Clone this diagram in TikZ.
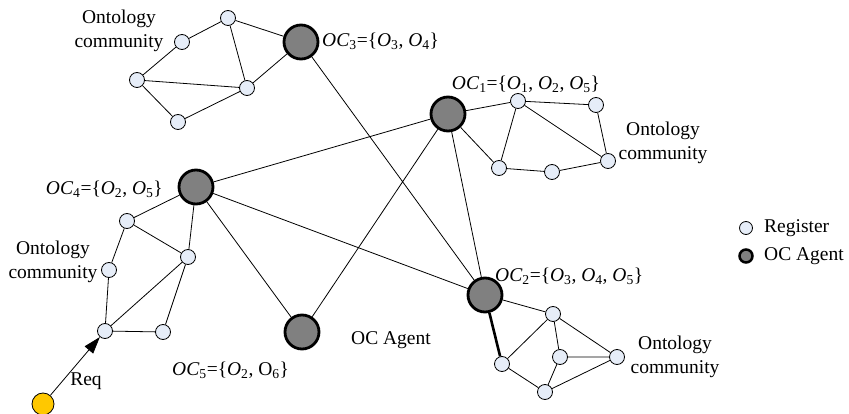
\documentclass[tikz,border=0pt]{standalone}
\usepackage{fontspec}
\setmainfont{Liberation Serif}
\usetikzlibrary{arrows.meta}
\definecolor{regfill}{RGB}{230,237,248}
\definecolor{agentfill}{RGB}{128,128,128}
\definecolor{reqfill}{RGB}{255,200,0}
\newcommand\myO[1]{\textit{O}\textsubscript{#1}}
\newcommand\myOC[1]{\textit{OC}\textsubscript{#1}}
\tikzset{
  reg/.style={circle, draw, fill=regfill, minimum size=15pt, inner sep=0pt, line width=0.8pt},
  agent/.style={circle, draw, fill=agentfill, minimum size=34pt, inner sep=0pt, line width=2.8pt},
  edge/.style={line width=0.8pt},
  thickedge/.style={line width=2.6pt},
  lbl/.style={font=\fontsize{19.5}{24}\selectfont, inner sep=0pt, align=center},
}
\begin{document}
\begin{tikzpicture}[x=1pt,y=-1pt]
\useasboundingbox (0,0) rectangle (849,414);
\clip (0,0) rectangle (849,414);
% agents
\node[agent] (OC3) at (301,42) {};
\node[agent] (OC1) at (448,114) {};
\node[agent] (OC4) at (196,187) {};
\node[agent] (OC5) at (302,332) {};
\node[agent] (OC2) at (485,295) {};
% community around OC3
\node[reg] (a1) at (228,18) {};
\node[reg] (a2) at (182,42) {};
\node[reg] (a3) at (137,80) {};
\node[reg] (a4) at (247,88) {};
\node[reg] (a5) at (178,122) {};
% community around OC1
\node[reg] (b1) at (518,101) {};
\node[reg] (b2) at (596,105) {};
\node[reg] (b3) at (608,161) {};
\node[reg] (b4) at (499,168) {};
\node[reg] (b5) at (552,172) {};
% community around OC4
\node[reg] (c1) at (127,221) {};
\node[reg] (c2) at (188,257) {};
\node[reg] (c3) at (109,270) {};
\node[reg] (c4) at (105,331) {};
\node[reg] (c5) at (163,332) {};
% community around OC2
\node[reg] (d1) at (553,314) {};
\node[reg] (d2) at (502,364) {};
\node[reg] (d3) at (560,357) {};
\node[reg] (d4) at (617,357) {};
\node[reg] (d5) at (545,392) {};
% request
\node[circle, draw, fill=reqfill, minimum size=22pt, inner sep=0pt, line width=0.8pt] (req) at (43,404) {};
% edges
\begin{scope}[on background layer/.style={}]
\draw[edge] (a1) -- (a2) (a2) -- (a3) (a1) -- (a4) (a3) -- (a4) (a3) -- (a5) (a5) -- (a4)
  (a1) -- (OC3) (a4) -- (OC3);
\draw[edge] (OC1) -- (b1) (OC1) -- (b4) (b1) -- (b2) (b1) -- (b3) (b1) -- (b4) (b2) -- (b3)
  (b4) -- (b5) (b5) -- (b3);
\draw[edge] (OC4) -- (c1) (OC4) -- (c2) (c1) -- (c2) (c1) -- (c3) (c3) -- (c4) (c4) -- (c2)
  (c4) -- (c5) (c5) -- (c2);
\draw[edge] (OC2) -- (d1) (d1) -- (d2) (d1) -- (d3) (d1) -- (d4) (d3) -- (d4) (d2) -- (d5)
  (d3) -- (d5) (d5) -- (d4);
\draw[thickedge] (OC2) -- (d2);
\draw[edge] (OC3) -- (OC2) (OC1) -- (OC4) (OC1) -- (OC5) (OC1) -- (OC2)
  (OC4) -- (OC5) (OC4) -- (OC2);
\draw[edge, -{Triangle[length=17pt,width=11pt]}] (req) -- (c4);
\end{scope}
% labels
\node[lbl, anchor=west] (lOC3) at (322,41) {\myOC{3}=\{\myO{3}, \myO{4}\}};
\node[lbl] (lOC1) at (526,84) {\myOC{1}=\{\myO{1}, \myO{2}, \myO{5}\}};
\node[lbl, anchor=east] (lOC4) at (163,189) {\myOC{4}=\{\myO{2}, \myO{5}\}};
\node[lbl, anchor=west] (lOC2) at (495,276) {\myOC{2}=\{\myO{3}, \myO{4}, \myO{5}\}};
\node[lbl, anchor=west] (lOC5) at (172,370) {\myOC{5}=\{\myO{2}, O\textsubscript{6}\}};
\node[lbl] (lag) at (391,340) {OC Agent};
\node[lbl] (lreq) at (86,381) {Req};
\node[lbl] (ont1) at (119,31) {Ontology\\community};
\node[lbl] (ont2) at (663,143) {Ontology\\community};
\node[lbl] (ont3) at (53,262) {Ontology\\community};
\node[lbl] (ont4) at (675,357) {Ontology\\community};
% legend
\node[circle, draw, fill=regfill, minimum size=13pt, inner sep=0pt, line width=0.8pt] (legreg) at (746,228) {};
\node[lbl, anchor=west] (legregt) at (764,228) {Register};
\node[circle, draw, fill=agentfill, minimum size=13pt, inner sep=0pt, line width=2.5pt] (legag) at (746,256) {};
\node[lbl, anchor=west] (legagt) at (764,256) {OC Agent};
\end{tikzpicture}
\end{document}
